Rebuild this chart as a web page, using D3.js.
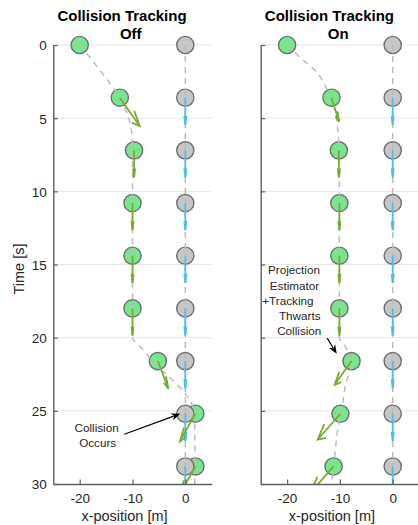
<!DOCTYPE html>
<html>
<head>
<meta charset="utf-8">
<script src="https://cdn.jsdelivr.net/npm/d3@7"></script>
<style>
  html, body { margin: 0; padding: 0; background: #fff; }
  svg { display: block; font-family: "Liberation Sans", Arial, Helvetica, sans-serif; }
</style>
</head>
<body>
<svg id="chart" width="418" height="525"></svg>
<script>
// ---------------- data ----------------
const times = [0, 3.6, 7.2, 10.8, 14.4, 18, 21.6, 25.2, 28.8];
const yTicks = [0, 5, 10, 15, 20, 25, 30];
const xTicks = [-20, -10, 0];
const xDomain = [-25, 5];
const yDomain = [0, 30];

// panel "Off"
const offGreenX = [-20, -12.4, -9.7, -10, -10, -10, -5.2, 1.9, 1.9];
const offGrayX  = [0, 0, 0, 0, 0, 0, 0, 0, 0];
const offGreenU = [null, 3.75, 0, 0, 0, 0, 2.0, -2.9, -2.9];
const offGreenV = [null, 1.94, 1.85, 1.85, 1.85, 1.85, 1.89, 1.87, 1.87];
const offGrayU  = [null, 0, 0, 0, 0, 0, 0, 0, 0];
const offGrayV  = [null, 1.85, 1.85, 1.85, 1.85, 1.85, 1.85, 1.85, 1.85];
const offPathX  = [-20, -16, -12.4, -10.8, -10.1, -10, -10, -8, -6, -3, -0.3, 1.2, 1.8, 1.8];
const offPathT  = [0, 1.8, 3.6, 4.9, 6.2, 7.5, 20, 20.8, 21.7, 22.7, 23.7, 24.5, 25.5, 30];

// panel "On"
const onGreenX = [-20, -11.6, -10.2, -10.1, -10.1, -10.1, -7.8, -9.9, -11.2];
const onGrayX  = [0, 0, 0, 0, 0, 0, 0, 0, 0];
const onGreenU = [null, 1.45, 0, 0, 0, 0, -3.2, -4.3, -4.3];
const onGreenV = [null, 1.64, 1.85, 1.85, 1.85, 1.85, 1.62, 1.76, 1.76];
const onGrayU  = [null, 0, 0, 0, 0, 0, 0, 0, 0];
const onGrayV  = [null, 1.85, 1.85, 1.85, 1.85, 1.85, 1.85, 1.85, 1.85];
const onPathX  = [-20, -17.4, -14.3, -12.7, -11.6, -10.8, -10.3, -10.1, -10.1, -9, -8, -7.9, -8.8, -9.5, -10.3, -11.2, -11.6];
const onPathT  = [0, 0.9, 1.9, 2.85, 3.6, 4.8, 6.2, 7.5, 20, 20.6, 21.4, 22, 23, 24.5, 26, 28.8, 30];

const grayPathX = [0, 0];
const grayPathT = [0, 30];

// annotations (data coords)
const offNoteLines = ["Collision", "Occurs"];
const offNoteX = [-16.8, -16.6];
const offNoteT = [26.2, 27.2];
const offArrow = {x0: -11.56, t0: 26.6, x1: -0.95, t1: 25.2};

const onNoteLines = ["Projection", "Estimator", "+Tracking", "Thwarts", "Collision"];
const onNoteX = [-18.7, -18.6, -19.85, -17.6, -17.7];
const onNoteT = [15.4, 16.47, 17.5, 18.5, 19.55];
const onArrow = {x0: -12.4, t0: 20.03, x1: -10.6, t1: 21.1};

// ---------------- styles ----------------
const C = {
  greenFill: "#78e68f", grayFill: "#c6c6c6", markerStroke: "#6e6e6e",
  greenArrow: "#77ac30", blueArrow: "#4dbeee",
  path: "#bcbcbc", grid: "#e6e6e6", axis: "#5f5f5f", text: "#262626"
};

const svg = d3.select("#chart");
const plotTop = 45, plotBottom = 484;

const panels = [
  {id: "off", left: 53.3, right: 211.7, title: ["Collision Tracking", "Off"], showY: true,
   greenX: offGreenX, grayX: offGrayX, gU: offGreenU, gV: offGreenV, bU: offGrayU, bV: offGrayV,
   pathX: offPathX, pathT: offPathT, noteLines: offNoteLines, noteX: offNoteX, noteT: offNoteT, arrow: offArrow},
  {id: "on", left: 260.7, right: 419.1, title: ["Collision Tracking", "On"], showY: false,
   greenX: onGreenX, grayX: onGrayX, gU: onGreenU, gV: onGreenV, bU: onGrayU, bV: onGrayV,
   pathX: onPathX, pathT: onPathT, noteLines: onNoteLines, noteX: onNoteX, noteT: onNoteT, arrow: onArrow}
];

const defs = svg.append("defs");

panels.forEach(p => {
  const x = d3.scaleLinear().domain(xDomain).range([p.left, p.right]);
  const y = d3.scaleLinear().domain(yDomain).range([plotTop, plotBottom]);
  const g = svg.append("g");

  defs.append("clipPath").attr("id", "clip-" + p.id)
    .append("rect").attr("x", p.left).attr("y", plotTop - 12)
    .attr("width", p.right - p.left).attr("height", plotBottom - plotTop + 12);

  // gridlines
  g.append("g").selectAll("line").data(yTicks.filter(d => d < 30)).join("line")
    .attr("x1", p.left).attr("x2", p.right)
    .attr("y1", d => y(d)).attr("y2", d => y(d))
    .attr("stroke", C.grid).attr("stroke-width", 1);

  const plot = g.append("g").attr("clip-path", `url(#clip-${p.id})`);

  // markers: green first, gray on top
  plot.append("g").selectAll("circle").data(times).join("circle")
    .attr("cx", (d, i) => x(p.greenX[i])).attr("cy", d => y(d)).attr("r", 8.6)
    .attr("fill", C.greenFill).attr("stroke", C.markerStroke).attr("stroke-width", 1.4);
  plot.append("g").selectAll("circle").data(times).join("circle")
    .attr("cx", (d, i) => x(p.grayX[i])).attr("cy", d => y(d)).attr("r", 8.6)
    .attr("fill", C.grayFill).attr("stroke", C.markerStroke).attr("stroke-width", 1.4);

  // dashed trajectories
  const line = d3.line().x(d => x(d[0])).y(d => y(d[1])).curve(d3.curveMonotoneY);
  const trajs = [
    d3.zip(p.pathX, p.pathT),
    d3.zip(grayPathX, grayPathT)
  ];
  plot.append("g").selectAll("path").data(trajs).join("path")
    .attr("d", line).attr("fill", "none")
    .attr("stroke", C.path).attr("stroke-width", 1.5).attr("stroke-dasharray", "6,5");

  // quiver arrows (MATLAB-style head, in data units)
  const alpha = 0.33, beta = 0.33;
  function quiver(xs, us, vs, color) {
    const gg = plot.append("g").attr("stroke", color).attr("stroke-width", 1.8)
      .attr("fill", "none").attr("stroke-linecap", "butt");
    times.forEach((t, i) => {
      if (us[i] === null) return;
      const x0 = xs[i], u = us[i], v = vs[i];
      const tx = x0 + u, ty = t + v;
      gg.append("line").attr("x1", x(x0)).attr("y1", y(t)).attr("x2", x(tx)).attr("y2", y(ty));
      const h = [
        [tx - alpha * (u + beta * v), ty - alpha * (v - beta * u)],
        [tx, ty],
        [tx - alpha * (u - beta * v), ty - alpha * (v + beta * u)]
      ];
      gg.append("path").attr("d", d3.line().x(d => x(d[0])).y(d => y(d[1]))(h));
    });
  }
  quiver(p.grayX, p.bU, p.bV, C.blueArrow);
  quiver(p.greenX, p.gU, p.gV, C.greenArrow);

  // axes
  const yAxis = d3.axisLeft(y).tickValues(yTicks).tickSizeInner(-4.5).tickSizeOuter(0).tickPadding(6.6)
    .tickFormat(p.showY ? (d => String(d)) : (() => ""));
  const ya = g.append("g").attr("transform", `translate(${p.left},0)`).call(yAxis);
  const xAxis = d3.axisBottom(x).tickValues(xTicks).tickSizeInner(-4.5).tickSizeOuter(0).tickPadding(9.4)
    .tickFormat(d => String(d));
  const xa = g.append("g").attr("transform", `translate(0,${plotBottom})`).call(xAxis);
  [ya, xa].forEach(a => {
    a.select(".domain").attr("stroke", C.axis).attr("stroke-width", 1.4);
    a.selectAll(".tick line").attr("stroke", C.axis).attr("stroke-width", 1.2);
    a.selectAll(".tick text").attr("fill", C.text)
      .style("font-size", "13.5px").style("font-family", '"Liberation Sans", Arial, sans-serif');
  });
  ya.selectAll(".tick text").attr("dy", "0.36em");

  const cx = (p.left + p.right) / 2;
  // titles
  g.append("text").attr("x", cx - 10.5).attr("y", 21).attr("text-anchor", "middle")
    .style("font-size", "15px").style("font-weight", "bold").attr("fill", "#000").text(p.title[0]);
  g.append("text").attr("x", cx - 1.7).attr("y", 39).attr("text-anchor", "middle")
    .style("font-size", "15px").style("font-weight", "bold").attr("fill", "#000").text(p.title[1]);

  // x label
  g.append("text").attr("x", cx - 8).attr("y", 521).attr("text-anchor", "middle")
    .style("font-size", "14.5px").attr("fill", C.text).text("x-position [m]");

  // annotation text
  g.append("g").selectAll("text").data(p.noteLines).join("text")
    .attr("x", (d, i) => x(p.noteX[i])).attr("y", (d, i) => y(p.noteT[i]))
    .attr("dy", "0.35em").attr("text-anchor", "middle")
    .style("font-size", "11.7px").attr("fill", C.text).text(d => d);

  // annotation arrow
  const a = p.arrow;
  const ax0 = x(a.x0), ay0 = y(a.t0), ax1 = x(a.x1), ay1 = y(a.t1);
  const ang = Math.atan2(ay1 - ay0, ax1 - ax0);
  const hl = 9, hw = 3.6;
  const bx = ax1 - hl * Math.cos(ang), by = ay1 - hl * Math.sin(ang);
  g.append("line").attr("x1", ax0).attr("y1", ay0).attr("x2", bx + 2 * Math.cos(ang)).attr("y2", by + 2 * Math.sin(ang))
    .attr("stroke", "#000").attr("stroke-width", 1.2);
  g.append("path").attr("d", d3.line()([
    [ax1, ay1],
    [bx + hw * Math.sin(ang), by - hw * Math.cos(ang)],
    [ax1 - (hl - 2.5) * Math.cos(ang), ay1 - (hl - 2.5) * Math.sin(ang)],
    [bx - hw * Math.sin(ang), by + hw * Math.cos(ang)]
  ]) + "Z").attr("fill", "#000");
});

// y label
svg.append("text").attr("transform", "translate(24,269) rotate(-90)")
  .attr("text-anchor", "middle").style("font-size", "14.5px").attr("fill", C.text).text("Time [s]");
</script>
</body>
</html>
